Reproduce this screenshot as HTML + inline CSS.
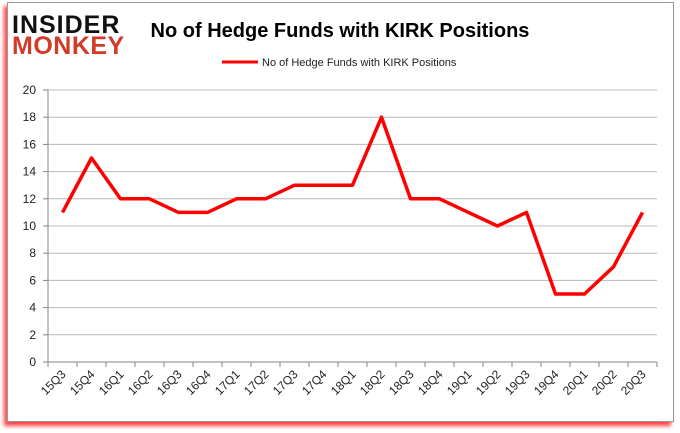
<!DOCTYPE html>
<html><head><meta charset="utf-8"><style>
body{margin:0;width:680px;height:433px;background:#fff;overflow:hidden;font-family:"Liberation Sans",sans-serif}
#frame{position:absolute;left:7px;top:2px;width:665px;height:418px;border:1px solid #9a9a9a;background:#fff;box-shadow:-3px 4px 4px rgba(255,0,0,0.75)}
</style></head><body>
<div id="frame"></div>
<svg id="c" width="680" height="433" style="position:absolute;left:0;top:0">
<g>
<text x="12" y="33" font-size="25" font-weight="bold" fill="#111" letter-spacing="1">INSIDER</text>
<text x="12" y="54" font-size="25" font-weight="bold" fill="#d23a2a" letter-spacing="0.5">MONKEY</text>
</g>
<text x="340" y="37" text-anchor="middle" font-size="20" font-weight="bold" fill="#000">No of Hedge Funds with KIRK Positions</text>
<line x1="222" y1="62" x2="258" y2="62" stroke="#ff0000" stroke-width="3"/>
<text x="262" y="66" font-size="11" fill="#222">No of Hedge Funds with KIRK Positions</text>
<g id="grid"></g><g id="axes"></g>
</svg>
<script>
const categories=["15Q3","15Q4","16Q1","16Q2","16Q3","16Q4","17Q1","17Q2","17Q3","17Q4","18Q1","18Q2","18Q3","18Q4","19Q1","19Q2","19Q3","19Q4","20Q1","20Q2","20Q3"];
const values=[11,15,12,12,11,11,12,12,13,13,13,18,12,12,11,10,11,5,5,7,11];
const yTicks=[0,2,4,6,8,10,12,14,16,18,20];
const NS="http://www.w3.org/2000/svg";
const L=48,R=657,T=90,B=362,yMax=20;
const step=(R-L)/categories.length;
const xs=i=>L+step*(i+0.5);
const ys=v=>B-(v/yMax)*(B-T);
const svg=document.getElementById('c');
function mk(t,a,p){const e=document.createElementNS(NS,t);for(const k in a)e.setAttribute(k,a[k]);(p||svg).appendChild(e);return e;}
yTicks.forEach(v=>{
 const g=mk('line',{x1:L,x2:R,y1:ys(v),y2:ys(v),stroke:v===0?'#868686':'#b8b8b8','stroke-width':1});
 
 
 const tk=mk('line',{x1:L-5,x2:L,y1:ys(v),y2:ys(v),stroke:'#868686'});
 
 
 const t=mk('text',{x:L-12,y:ys(v)+4,'text-anchor':'end','font-size':12,fill:'#222'});
 t.textContent=v;
 
 
});
const ya=mk('line',{x1:L,x2:L,y1:T,y2:B,stroke:'#868686'});


for(let i=0;i<=categories.length;i++){
 const x=L+step*i;
 const tk=mk('line',{x1:x,x2:x,y1:B,y2:B+5,stroke:'#868686'});
 
 
}
categories.forEach((c,i)=>{
 const x=xs(i)+4,y=B+13;
 const t=mk('text',{x:x,y:y,'text-anchor':'end','font-size':12,fill:'#222',transform:`rotate(-45 ${x} ${y})`});
 t.textContent=c;
 
 
});
const pts=values.map((v,i)=>xs(i)+','+ys(v)).join(' ');
const line=mk('polyline',{points:pts,fill:'none',stroke:'#ff0000','stroke-width':3.5,'stroke-linejoin':'round'});


</script>
</body></html>
